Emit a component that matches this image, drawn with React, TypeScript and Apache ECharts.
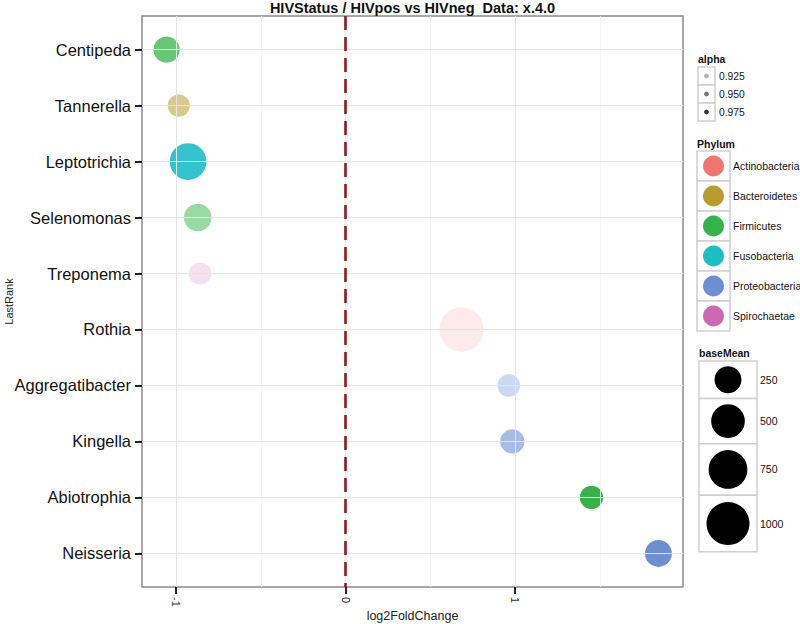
import React, { useEffect, useRef } from "react";
import * as echarts from "echarts";

// ---------- data ----------
const categories = [
  "Centipeda",
  "Tannerella",
  "Leptotrichia",
  "Selenomonas",
  "Treponema",
  "Rothia",
  "Aggregatibacter",
  "Kingella",
  "Abiotrophia",
  "Neisseria",
];
const log2FoldChange = [-1.056, -0.984, -0.929, -0.872, -0.859, 0.684, 0.963, 0.984, 1.451, 1.846];
const phylum = [
  "Firmicutes",
  "Bacteroidetes",
  "Fusobacteria",
  "Firmicutes",
  "Spirochaetae",
  "Actinobacteria",
  "Proteobacteria",
  "Proteobacteria",
  "Firmicutes",
  "Proteobacteria",
];
const baseMean = [229, 125, 645, 272, 134, 1083, 134, 173, 148, 250];
const alphaValues = [0.97, 0.95, 0.985, 0.945, 0.915, 0.91, 0.93, 0.955, 0.995, 0.995];

const phylumLevels = [
  "Actinobacteria",
  "Bacteroidetes",
  "Firmicutes",
  "Fusobacteria",
  "Proteobacteria",
  "Spirochaetae",
];
const phylumColors = ["#F07470", "#B89D2E", "#35B34A", "#1DBDC4", "#6D8FD1", "#CB6AB2"];

const alphaBreaks = [0.925, 0.95, 0.975];
const alphaLimits = [0.905, 0.995];
const sizeBreaks = [250, 500, 750, 1000];

const xTicks = [-1, 0, 1];
const xMinorGrid = [-0.5, 0.5, 1.5];
const xRange = [-1.201, 1.991];
const yIndex = categories.map((_, i) => i);

const TITLE = "HIVStatus / HIVpos vs HIVneg  Data: x.4.0";

// ---------- helpers ----------
const FONT = '"Liberation Sans", Arial, Helvetica, sans-serif';
const sizeOf = (v: number) => 11 + 32 * Math.sqrt(v / 1000);
const opacityOf = (a: number) =>
  0.1 + (0.9 * (a - alphaLimits[0])) / (alphaLimits[1] - alphaLimits[0]);
const colorOf = (p: string) => phylumColors[phylumLevels.indexOf(p)];

function txt(x: number, y: number, text: string, size: number, opts: any = {}) {
  return {
    type: "text",
    x,
    y,
    silent: true,
    style: {
      text,
      fontSize: size,
      fontFamily: FONT,
      fontWeight: opts.bold ? "bold" : "normal",
      fill: opts.fill || "#111",
      align: opts.align || "left",
      textAlign: opts.align || "left",
      verticalAlign: "middle",
      textVerticalAlign: "middle",
    },
  };
}

function buildLegends() {
  const els: any[] = [];
  const keyStroke = "#cfcfcf";
  // alpha legend
  const ax = 698;
  els.push(txt(ax, 59, "alpha", 10.5, { bold: true }));
  alphaBreaks.forEach((a, i) => {
    const y = 67 + i * 18;
    els.push({
      type: "rect",
      shape: { x: ax, y, width: 17, height: 18 },
      style: { fill: "#fff", stroke: keyStroke, lineWidth: 1.5 },
    });
    els.push({
      type: "circle",
      shape: { cx: ax + 8.5, cy: y + 9, r: 2.4 },
      style: { fill: "#000", opacity: opacityOf(a) },
    });
    els.push(txt(ax + 21, y + 9, a.toFixed(3), 10.3));
  });
  // Phylum legend
  const px = 697;
  els.push(txt(px, 144, "Phylum", 10.5, { bold: true }));
  phylumLevels.forEach((p, i) => {
    const y = 151 + i * 30;
    els.push({
      type: "rect",
      shape: { x: px, y, width: 33, height: 30 },
      style: { fill: "#fff", stroke: keyStroke, lineWidth: 1.5 },
    });
    els.push({
      type: "circle",
      shape: { cx: px + 16.5, cy: y + 15, r: 10.5 },
      style: { fill: phylumColors[i] },
    });
    els.push(txt(px + 36, y + 15, p, 10.5));
  });
  // baseMean legend
  const bx = 699;
  els.push(txt(bx, 353, "baseMean", 10.5, { bold: true }));
  let y = 361;
  sizeBreaks.forEach((v) => {
    const d = sizeOf(v);
    const h = d * 1.2 + 5;
    els.push({
      type: "rect",
      shape: { x: bx, y, width: 58, height: h },
      style: { fill: "#fff", stroke: keyStroke, lineWidth: 1.5 },
    });
    els.push({
      type: "circle",
      shape: { cx: bx + 29, cy: y + h / 2, r: d / 2 },
      style: { fill: "#000" },
    });
    els.push(txt(bx + 61, y + h / 2, String(v), 10.5));
    y += h;
  });
  return els;
}

export default function App() {
  const ref = useRef<HTMLDivElement>(null);
  useEffect(() => {
    document.body.style.margin = "0";
    if (!ref.current) return;
    const chart = echarts.init(ref.current, null, { renderer: "svg" });

    const points = categories.map((c, i) => ({
      name: c,
      value: [log2FoldChange[i], i, baseMean[i], alphaValues[i]],
      itemStyle: { color: colorOf(phylum[i]), opacity: opacityOf(alphaValues[i]) },
    }));

    const majorStyle = { color: "#e4e4e4", width: 1, type: "solid" };
    const minorStyle = { color: "#f3f3f3", width: 0.8, type: "solid" };

    const option: any = {
      animation: false,
      backgroundColor: "#fff",
      textStyle: { fontFamily: FONT },
      grid: {
        left: 142,
        top: 16,
        width: 541,
        height: 571,
        containLabel: false,
        outerBoundsMode: "none",
        show: true,
        borderColor: "#8a8a8a",
        borderWidth: 1.5,
        backgroundColor: "#fff",
        z: 0,
      },
      xAxis: {
        type: "value",
        position: "bottom",
        min: xRange[0],
        max: xRange[1],
        axisLine: { show: false, onZero: false },
        splitLine: { show: false },
        axisTick: {
          show: true,
          customValues: xTicks,
          length: 7,
          lineStyle: { color: "#222", width: 2 },
        },
        axisLabel: {
          customValues: xTicks,
          rotate: -90,
          margin: 10,
          fontSize: 11,
          color: "#333",
          fontFamily: FONT,
          formatter: (v: number) => String(v),
        },
        name: "log2FoldChange",
        nameLocation: "middle",
        nameGap: 22,
        nameMoveOverlap: false,
        nameTextStyle: { fontSize: 12.5, color: "#222", fontFamily: FONT },
      },
      yAxis: {
        type: "value",
        position: "left",
        min: -0.6,
        max: 9.6,
        inverse: true,
        axisLine: { show: false, onZero: false },
        splitLine: { show: false },
        axisTick: {
          show: true,
          customValues: yIndex,
          length: 7,
          lineStyle: { color: "#222", width: 2 },
        },
        axisLabel: {
          customValues: yIndex,
          margin: 11,
          fontSize: 16.5,
          color: "#111",
          fontFamily: FONT,
          formatter: (v: number) => categories[Math.round(v)] ?? "",
        },
        name: "LastRank",
        nameLocation: "middle",
        nameGap: 128,
        nameMoveOverlap: false,
        nameTextStyle: { fontSize: 11, color: "#222", fontFamily: FONT },
      },
      series: [
        {
          type: "scatter",
          data: [],
          z: 1,
          silent: true,
          markLine: {
            silent: true,
            symbol: ["none", "none"],
            label: { show: false },
            animation: false,
            data: [
              ...xMinorGrid.map((v) => ({ xAxis: v, lineStyle: minorStyle })),
              ...yIndex.map((v) => ({ yAxis: v, lineStyle: majorStyle })),
              ...xTicks.map((v) => ({ xAxis: v, lineStyle: majorStyle })),
            ],
          },
        },
        {
          type: "scatter",
          z: 2,
          symbol: "circle",
          symbolSize: (val: number[]) => sizeOf(val[2]),
          data: points,
        },
        {
          type: "scatter",
          data: [],
          z: 3,
          silent: true,
          markLine: {
            silent: true,
            symbol: ["none", "none"],
            label: { show: false },
            animation: false,
            data: [{ xAxis: 0 }],
            lineStyle: { color: "#8B1A1A", width: 2.6, type: [14, 7] },
          },
        },
      ],
      graphic: [
        txt(412.5, 8, TITLE, 14.5, { bold: true, align: "center" }),
        ...buildLegends(),
      ],
    };
    chart.setOption(option);
    return () => chart.dispose();
  }, []);
  return <div ref={ref} style={{ width: 800, height: 624 }} />;
}
